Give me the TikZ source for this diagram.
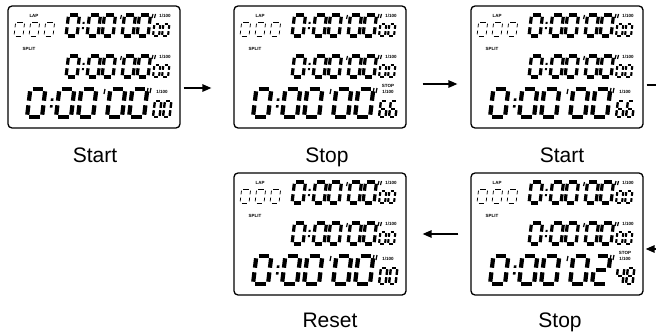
\documentclass[tikz,border=0pt]{standalone}
\usepackage{fontspec}
\setmainfont{Liberation Sans}
\usetikzlibrary{arrows.meta,calc,positioning}

% lit segments of each digit
\expandafter\def\csname segs0\endcsname{a,b,c,d,e,f}
\expandafter\def\csname segs2\endcsname{a,b,g,e,d}
\expandafter\def\csname segs4\endcsname{f,g,b,c}
\expandafter\def\csname segs6\endcsname{a,f,g,e,c,d}
\expandafter\def\csname segs8\endcsname{a,b,c,d,e,f,g}

\tikzset{
  seg gap/.store in=\segG, seg gap=1.5,
  big/.style={line width=3.2pt, seg gap=1.8},
  huge/.style={line width=4.2pt, seg gap=2.3},
  small/.style={line width=2.1pt, seg gap=1.2},
  hollow/.style={line width=0.75pt, double=white, double distance=1.4pt, seg gap=1.6},
  panel/.style={draw, line width=1.3pt, rounded corners=4pt, minimum width=172pt,
    minimum height=122pt, inner sep=0pt},
  tag/.style={font=\fontsize{4.5}{5}\selectfont\bfseries, inner sep=0pt},
  caption/.style={font=\fontsize{21}{24}\selectfont, anchor=base, inner sep=0pt},
  flow/.style={line width=1.4pt, -{Triangle[length=9pt,width=7.5pt]}},
  wire/.style={line width=1.4pt}
}

% \lcd[style]{x}{y}{width}{height}{digit}, (x,y) is the lower left corner
\newcommand\lcd[6][]{%
  \begin{scope}[shift={(#2,#3)}, xslant=0.12, #1]
    \def\segW{#4}\def\segH{#5}
    \coordinate (a0) at (\segG,-\segH);       \coordinate (a1) at (\segW-\segG,-\segH);
    \coordinate (b0) at (\segW,-\segH+\segG); \coordinate (b1) at (\segW,-\segH/2-\segG);
    \coordinate (c0) at (\segW,-\segH/2+\segG); \coordinate (c1) at (\segW,-\segG);
    \coordinate (d0) at (\segG,0);            \coordinate (d1) at (\segW-\segG,0);
    \coordinate (e0) at (0,-\segH/2+\segG);   \coordinate (e1) at (0,-\segG);
    \coordinate (f0) at (0,-\segH+\segG);     \coordinate (f1) at (0,-\segH/2-\segG);
    \coordinate (g0) at (\segG,-\segH/2);     \coordinate (g1) at (\segW-\segG,-\segH/2);
    \edef\litsegs{\csname segs#6\endcsname}
    \foreach \s in \litsegs {\draw (\s0) -- (\s1);}
  \end{scope}}

% \lcdcolon{x}{y}{height}{dot size}
\newcommand\lcdcolon[4]{%
  \begin{scope}[shift={(#1,#2)}, xslant=0.12]
    \fill (-#4/2,-0.38*#3-#4/2) rectangle ++(#4,#4);
    \fill (-#4/2,-0.62*#3-#4/2) rectangle ++(#4,#4);
  \end{scope}}

% \lcdprime{x}{y top}{length}
\newcommand\lcdprime[3]{\draw[line width=1.2pt] (#1+1,#2) -- (#1,#2+#3);}

% \watch{name}{left}{top}{last big digit}{small digit}{small digit}{tag}
\newcommand\watch[7]{%
  \node[panel] (#1) at (#2+86,#3+61) {};
  \begin{scope}[shift={(#2,#3)}]
    \node[tag] at (26,10) {LAP};
    \node[tag] at (21,43) {SPLIT};
    \foreach \x in {6,21,36} {\lcd[hollow]{\x}{30}{9}{14}{0}}
    % lap and split rows
    \foreach \r in {30,71} {
      \foreach \x in {58,79,94,114,129} {\lcd[big]{\x}{\r}{11}{21}{0}}
      \lcdcolon{74}{\r}{21}{2}
      \lcdprime{112.5}{\r-21}{4}
      \lcdprime{144}{\r-22}{4}\lcdprime{146.5}{\r-22}{4}
      \node[tag] at (157,\r-20) {1/100};
      \lcd[small]{145}{\r}{6}{12}{0}
      \lcd[small]{154}{\r}{6}{12}{0}
    }
    % main row
    \foreach \x in {19,48,70,99} {\lcd[huge]{\x}{111}{15}{28}{0}}
    \lcd[huge]{121}{111}{15}{28}{#4}
    \lcdcolon{42}{111}{28}{2.6}
    \lcdprime{96}{83}{5}
    \lcdprime{139}{82}{5}\lcdprime{142}{82}{5}
    \if\relax\detokenize{#7}\relax\else\node[tag] at (154,80) {#7};\fi
    \node[tag] at (154,86) {1/100};
    \lcd[small, line width=2.4pt]{145}{111}{6.5}{16}{#5}
    \lcd[small, line width=2.4pt]{155}{111}{6.5}{16}{#6}
  \end{scope}}

\begin{document}
\begin{tikzpicture}[x=1pt, y=-1pt]
  \useasboundingbox (0,0) rectangle (656,332);

  \watch{start1}{8}{6}{0}{0}{0}{}
  \watch{stop1}{234}{6}{0}{6}{6}{STOP}
  \watch{start2}{471}{6}{0}{6}{6}{}
  \watch{reset}{234}{173}{0}{0}{0}{}
  \watch{stop2}{471}{173}{2}{4}{8}{STOP}

  \node[caption] (lbl1) at ($(start1.south)+(1,34)$) {Start};
  \node[caption] (lbl2) at ($(stop1.south)+(7,34)$) {Stop};
  \node[caption] (lbl3) at ($(start2.south)+(5,34)$) {Start};
  \node[caption] (lbl4) at ($(reset.south)+(10,32)$) {Reset};
  \node[caption] (lbl5) at ($(stop2.south)+(3,32)$) {Stop};

  \coordinate (outR) at (656,85);
  \coordinate (inR) at (656,249);

  \draw[flow, shorten <=3pt, shorten >=22pt] ($(start1.east)+(0,21)$) -- ($(stop1.west)+(0,21)$);
  \draw[flow, shorten <=16pt, shorten >=13pt] ($(stop1.east)+(0,17)$) -- ($(start2.west)+(0,17)$);
  \draw[wire, shorten <=3pt] (start2.east |- outR) -- (outR);
  \draw[flow, shorten >=2pt] (inR) -- (stop2.east |- inR);
  \draw[flow, shorten <=12pt, shorten >=16pt] (stop2.west) -- (reset.east);
\end{tikzpicture}
\end{document}
